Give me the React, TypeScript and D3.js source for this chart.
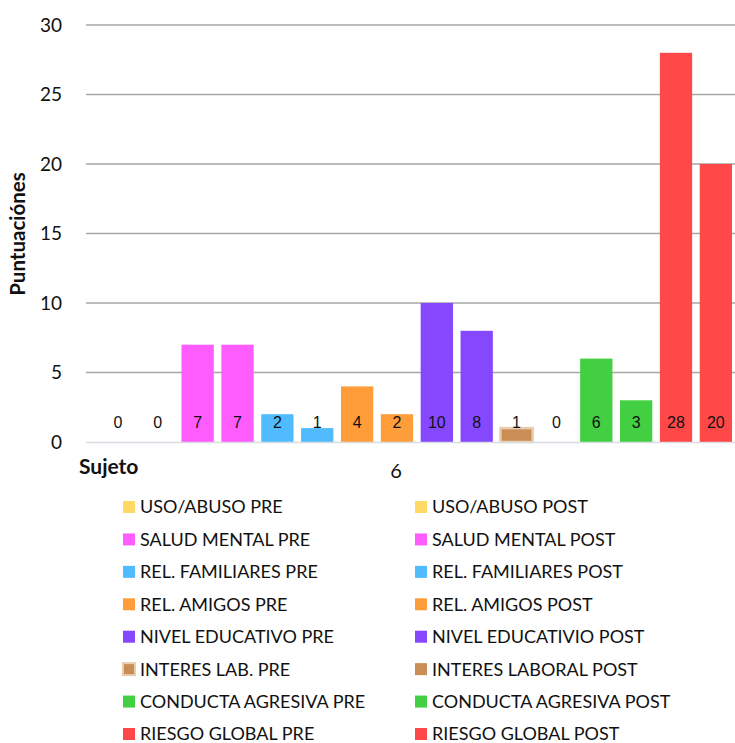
import React from "react";
import * as d3 from "d3";

// Series (PRE/POST pairs) for subject 6
const seriesNames = [
  "USO/ABUSO PRE",
  "USO/ABUSO POST",
  "SALUD MENTAL PRE",
  "SALUD MENTAL POST",
  "REL. FAMILIARES PRE",
  "REL. FAMILIARES POST",
  "REL. AMIGOS PRE",
  "REL. AMIGOS POST",
  "NIVEL EDUCATIVO PRE",
  "NIVEL EDUCATIVIO POST",
  "INTERES LAB. PRE",
  "INTERES LABORAL POST",
  "CONDUCTA AGRESIVA PRE",
  "CONDUCTA AGRESIVA POST",
  "RIESGO GLOBAL PRE",
  "RIESGO GLOBAL POST",
];
const seriesValues = [0, 0, 7, 7, 2, 1, 4, 2, 10, 8, 1, 0, 6, 3, 28, 20];
const seriesColors = [
  "#FFD966", "#FFD966",
  "#FF5CFF", "#FF5CFF",
  "#50BBFF", "#50BBFF",
  "#FF9D3B", "#FF9D3B",
  "#8548FF", "#8548FF",
  "#C98E55", "#C98E55",
  "#42CF42", "#42CF42",
  "#FF4848", "#FF4848",
];
const yTicks = [0, 5, 10, 15, 20, 25, 30];
const categoryLabel = "6";
const axisTitleX = "Sujeto";
const axisTitleY = "Puntuaciónes";

const W = 735;
const H = 743;
const plotLeft = 86;
const plotRight = 735;
const FONT = "Lato, 'Open Sans', sans-serif";

export default function App() {
  const y = d3.scaleLinear().domain([0, 30]).range([442, 25]);
  const x = d3
    .scaleBand<string>()
    .domain(seriesNames)
    .range([98, 735.8])
    .paddingInner(0.19)
    .paddingOuter(0.095);

  const legendRows = d3.range(seriesNames.length / 2);
  const legendY = d3.scaleLinear().domain([0, 7]).range([507, 734]);

  return (
    <svg
      width={W}
      height={H}
      style={{ position: "absolute", left: 0, top: 0, background: "#fff" }}
    >
      {/* gridlines and tick labels */}
      {yTicks.map((t) => (
        <g key={t}>
          {t > 0 && (
            <line
              x1={plotLeft}
              x2={plotRight}
              y1={y(t)}
              y2={y(t)}
              stroke="#A6A6A6"
              strokeWidth={1.5}
            />
          )}
          <text
            x={62}
            y={y(t)}
            dy="0.36em"
            textAnchor="end"
            fontFamily={FONT}
            fontSize={19}
            fill="#111"
          >
            {t}
          </text>
        </g>
      ))}

      {/* bars */}
      {seriesNames.map((name, i) => {
        const v = seriesValues[i];
        const x0 = x(name)!;
        const bw = x.bandwidth();
        const isInteres = name === "INTERES LAB. PRE";
        return (
          <g key={name}>
            {v > 0 && (
              <rect
                x={x0}
                y={y(v)}
                width={bw}
                height={y(0) - y(v)}
                fill={seriesColors[i]}
                stroke={isInteres ? "#EBCDAE" : "none"}
                strokeWidth={isInteres ? 2.5 : 0}
              />
            )}
            <text
              x={x0 + bw / 2}
              y={y(0) - 20}
              dy="0.36em"
              textAnchor="middle"
              fontFamily="'Liberation Sans', Arial, sans-serif"
              fontSize={16}
              fill="#111"
            >
              {v}
            </text>
          </g>
        );
      })}

      {/* category axis */}
      <line
        x1={plotLeft}
        x2={plotRight}
        y1={y(0) + 0.5}
        y2={y(0) + 0.5}
        stroke="#D9DDE3"
        strokeWidth={1.5}
      />
      <text
        x={396}
        y={471}
        dy="0.36em"
        textAnchor="middle"
        fontFamily={FONT}
        fontSize={20}
        fill="#111"
      >
        {categoryLabel}
      </text>
      <text
        x={79}
        y={466}
        dy="0.36em"
        fontFamily={FONT}
        fontWeight="bold"
        fontSize={21}
        fill="#111"
      >
        {axisTitleX}
      </text>
      <text
        transform={`translate(18,234) rotate(-90)`}
        dy="0.36em"
        textAnchor="middle"
        fontFamily={FONT}
        fontWeight="bold"
        fontSize={20.5}
        fill="#111"
      >
        {axisTitleY}
      </text>

      {/* legend: PRE in left column, POST in right column */}
      {legendRows.map((r) =>
        [0, 1].map((c) => {
          const i = r * 2 + c;
          const lx = c === 0 ? 123 : 415;
          const ly = legendY(r);
          const isInteres = seriesNames[i] === "INTERES LAB. PRE";
          return (
            <g key={i}>
              <rect
                x={lx}
                y={ly - 6}
                width={12}
                height={12}
                fill={seriesColors[i]}
                stroke={isInteres ? "#EBCDAE" : "none"}
                strokeWidth={isInteres ? 2 : 0}
              />
              <text
                x={lx + 17}
                y={ly}
                dy="0.36em"
                fontFamily={FONT}
                fontSize={18}
                fill="#111"
              >
                {seriesNames[i]}
              </text>
            </g>
          );
        })
      )}
    </svg>
  );
}
